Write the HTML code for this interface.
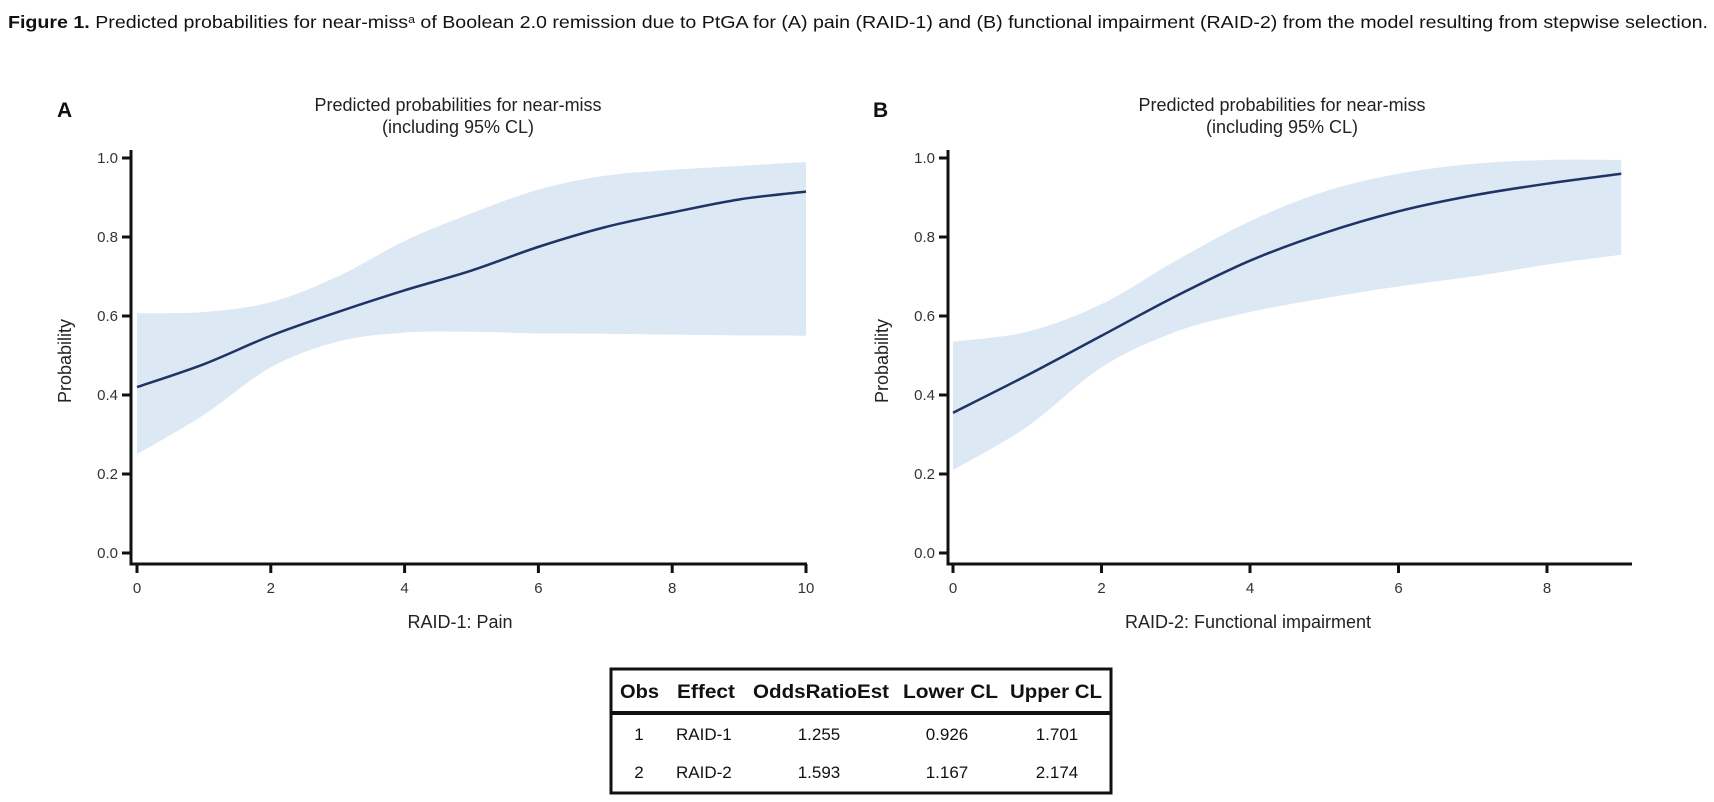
<!DOCTYPE html>
<html><head><meta charset="utf-8"><style>
html,body{margin:0;padding:0;background:#fff;}
svg{display:block;font-family:"Liberation Sans",Arial,sans-serif;}
</style></head><body>
<svg id="fig" width="1714" height="802" viewBox="0 0 1714 802">
<text x="8" y="28" font-size="17.5" fill="#111" textLength="1700" lengthAdjust="spacingAndGlyphs"><tspan font-weight="bold">Figure 1.</tspan> Predicted probabilities for near-miss<tspan font-size="11" dy="-5">a</tspan><tspan dy="5"> of Boolean 2.0 remission due to PtGA for (A) pain (RAID-1) and (B) functional impairment (RAID-2) from the model resulting from stepwise selection.</tspan></text>
<g id="panelA"></g>
<g id="panelB"></g>
<g font-size="17" fill="#111">
<rect x="611" y="669" width="500" height="124" fill="none" stroke="#111" stroke-width="3"/>
<line x1="611" y1="713" x2="1111" y2="713" stroke="#111" stroke-width="4"/>
<g font-weight="bold" font-size="19">
<text x="620" y="698" textLength="39" lengthAdjust="spacingAndGlyphs">Obs</text>
<text x="677" y="698" textLength="58" lengthAdjust="spacingAndGlyphs">Effect</text>
<text x="753" y="698" textLength="136" lengthAdjust="spacingAndGlyphs">OddsRatioEst</text>
<text x="903" y="698" textLength="95" lengthAdjust="spacingAndGlyphs">Lower CL</text>
<text x="1010" y="698" textLength="92" lengthAdjust="spacingAndGlyphs">Upper CL</text>
</g>
<g font-size="17">
<text x="639" y="740" text-anchor="middle">1</text><text x="676" y="740">RAID-1</text><text x="819" y="740" text-anchor="middle">1.255</text><text x="947" y="740" text-anchor="middle">0.926</text><text x="1057" y="740" text-anchor="middle">1.701</text>
</g>
<g font-size="17">
<text x="639" y="778" text-anchor="middle">2</text><text x="676" y="778">RAID-2</text><text x="819" y="778" text-anchor="middle">1.593</text><text x="947" y="778" text-anchor="middle">1.167</text><text x="1057" y="778" text-anchor="middle">2.174</text>
</g>
</g>
</svg>
<script>
const xA = [0,1,2,3,4,5,6,7,8,9,10];
const meanA = [0.42,0.478,0.55,0.61,0.665,0.715,0.775,0.825,0.862,0.895,0.915];
const upperA = [0.607,0.61,0.635,0.70,0.79,0.86,0.92,0.955,0.97,0.98,0.99];
const lowerA = [0.25,0.35,0.47,0.535,0.558,0.56,0.556,0.555,0.553,0.551,0.55];
const xTicksA = [0,2,4,6,8,10];
const xB = [0,1,2,3,4,5,6,7,8,9];
const meanB = [0.355,0.45,0.55,0.65,0.74,0.81,0.865,0.905,0.935,0.96];
const upperB = [0.535,0.56,0.63,0.74,0.84,0.915,0.96,0.985,0.995,0.995];
const lowerB = [0.21,0.32,0.47,0.56,0.61,0.645,0.675,0.70,0.73,0.755];
const xTicksB = [0,2,4,6,8];
const yTicks = [0,0.2,0.4,0.6,0.8,1.0];
const NS='http://www.w3.org/2000/svg';
function mk(tag, attrs, parent){const e=document.createElementNS(NS,tag);for(const k in attrs)e.setAttribute(k,attrs[k]);parent.appendChild(e);return e;}
function smooth(pts){let d='M'+pts[0][0]+','+pts[0][1];for(let i=0;i<pts.length-1;i++){const p0=pts[Math.max(0,i-1)],p1=pts[i],p2=pts[i+1],p3=pts[Math.min(pts.length-1,i+2)];const c1=[p1[0]+(p2[0]-p0[0])/6,p1[1]+(p2[1]-p0[1])/6],c2=[p2[0]-(p3[0]-p1[0])/6,p2[1]-(p3[1]-p1[1])/6];d+=' C'+c1[0]+','+c1[1]+' '+c2[0]+','+c2[1]+' '+p2[0]+','+p2[1];}return d;}
function panel(g,cfg){
  const sx=v=>cfg.x0+(v-cfg.xmin)/(cfg.xmax-cfg.xmin)*(cfg.x1-cfg.x0);
  const sy=v=>553-v*395;
  const up=cfg.xs.map((x,i)=>[sx(x),sy(cfg.up[i])]);
  const lo=cfg.xs.map((x,i)=>[sx(x),sy(cfg.lo[i])]).reverse();
  const ls=smooth(lo);
  let d=smooth(up)+' L'+lo[0][0]+','+lo[0][1]+ls.slice(ls.indexOf(' C'))+' Z';
  const band=mk('path',{d:d,fill:'#dce8f4',stroke:'none'},g);
  
  
  const line=mk('path',{d:smooth(cfg.xs.map((x,i)=>[sx(x),sy(cfg.mean[i])])),fill:'none',stroke:'#1f3466','stroke-width':2.5},g);
  
  
  const ax=cfg.axisX, ay=564;
  const yl=mk('line',{x1:ax,y1:150,x2:ax,y2:ay+1.5,stroke:'#111','stroke-width':3},g);
  
  
  const xl=mk('line',{x1:ax-1.5,y1:ay,x2:cfg.axEnd,y2:ay,stroke:'#111','stroke-width':3},g);
  
  
  yTicks.forEach(t=>{
    const tk=mk('line',{x1:ax-9,y1:sy(t),x2:ax,y2:sy(t),stroke:'#111','stroke-width':3},g);
    
    
    const tl=mk('text',{x:ax-13,y:sy(t)+5,'text-anchor':'end','font-size':15,fill:'#333'},g);
    tl.textContent=t.toFixed(1);
    
    
  });
  cfg.ticks.forEach(t=>{
    const tk=mk('line',{x1:sx(t),y1:ay,x2:sx(t),y2:ay+9,stroke:'#111','stroke-width':3},g);
    
    
    const tl=mk('text',{x:sx(t),y:ay+29,'text-anchor':'middle','font-size':15,fill:'#333'},g);
    tl.textContent=String(t);
    
    
  });
  const xt=mk('text',{x:cfg.xTitleX,y:628,'text-anchor':'middle','font-size':18,fill:'#222'},g);
  xt.textContent=cfg.xTitle;
  
  
  const yt=mk('text',{x:0,y:0,'text-anchor':'middle','font-size':18,fill:'#222',transform:'translate('+(ax-60)+',361) rotate(-90)'},g);
  yt.textContent='Probability';
  
  
  const t1=mk('text',{x:cfg.titleX,y:111,'text-anchor':'middle','font-size':18,fill:'#222'},g);
  t1.textContent='Predicted probabilities for near-miss';
  
  
  const t2=mk('text',{x:cfg.titleX,y:133,'text-anchor':'middle','font-size':18,fill:'#222'},g);
  t2.textContent='(including 95% CL)';
  
  
  const pl=mk('text',{x:cfg.letterX,y:117,'font-size':21,'font-weight':'bold',fill:'#111'},g);
  pl.textContent=cfg.letter;
  
  
}
panel(document.getElementById('panelA'),{xs:xA,mean:meanA,up:upperA,lo:lowerA,ticks:xTicksA,xmin:0,xmax:10,x0:137,x1:806,axisX:131,axEnd:807,xTitle:'RAID-1: Pain',xTitleX:460,titleX:458,letter:'A',letterX:57});
panel(document.getElementById('panelB'),{xs:xB,mean:meanB,up:upperB,lo:lowerB,ticks:xTicksB,xmin:0,xmax:8,x0:953,x1:1547,axisX:948,axEnd:1632,xTitle:'RAID-2: Functional impairment',xTitleX:1248,titleX:1282,letter:'B',letterX:873});
</script>
</body></html>
